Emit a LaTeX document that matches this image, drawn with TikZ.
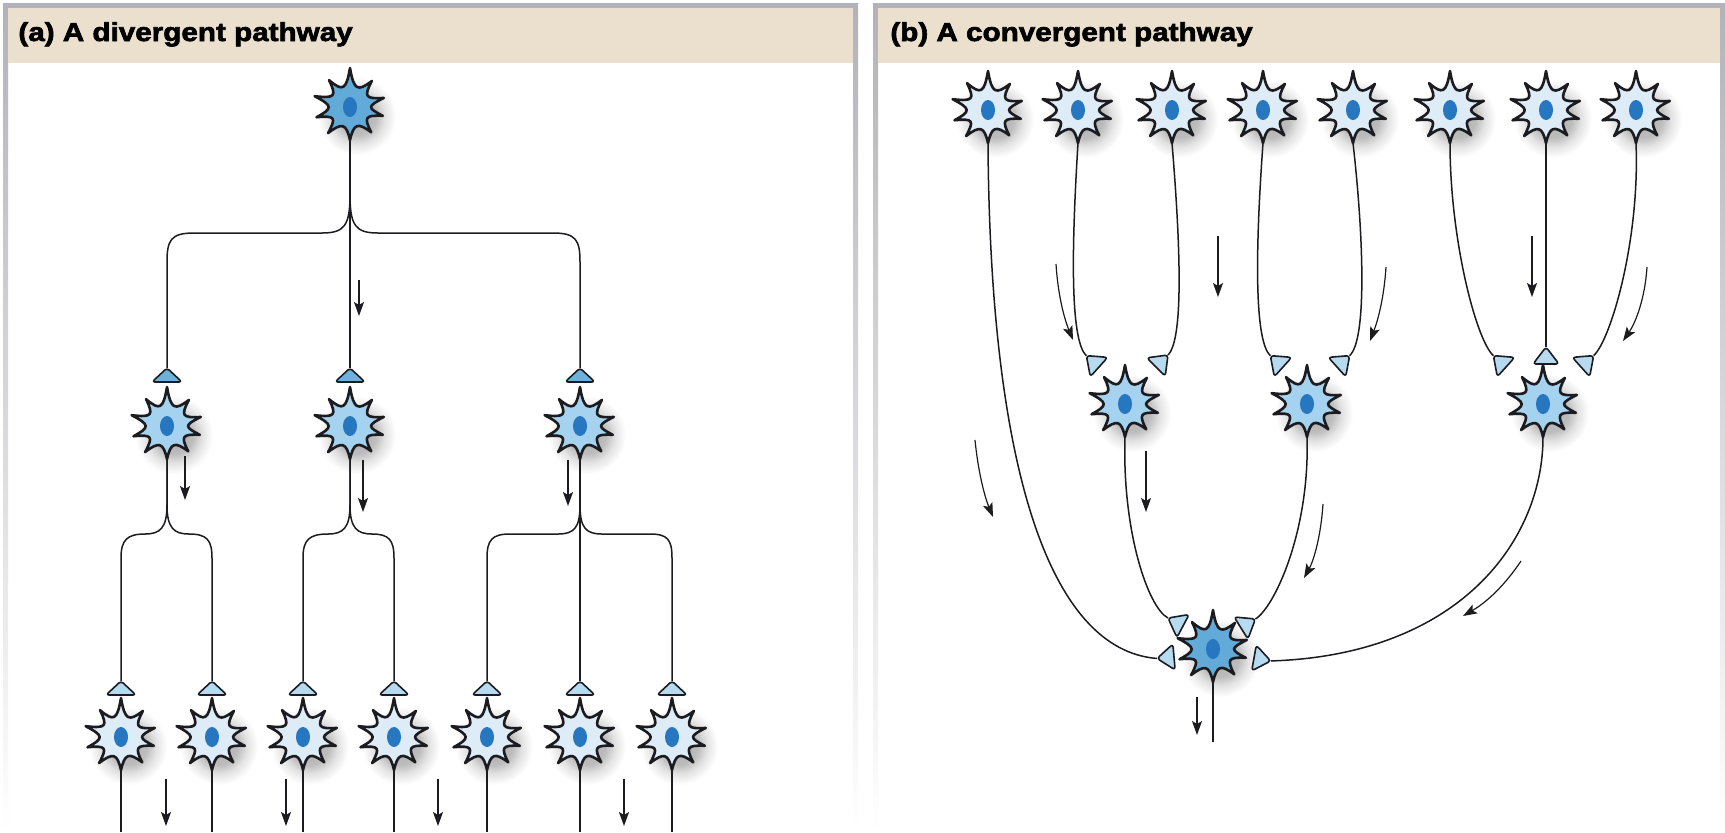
\documentclass[tikz,border=0pt]{standalone}
\usepackage{fontspec}
\newfontfamily\headfont[FakeStretch=1.14,BoldFeatures={FakeBold=2.5}]{Liberation Sans}
\usetikzlibrary{arrows.meta}

\definecolor{outline}{RGB}{28,28,32}
\definecolor{cdark}{RGB}{98,170,216}
\definecolor{cmid}{RGB}{165,210,238}
\definecolor{clight}{RGB}{222,236,247}
\definecolor{cnuc}{RGB}{38,118,192}
\definecolor{knobdark}{RGB}{110,178,220}
\definecolor{knoblight}{RGB}{182,219,241}
\definecolor{headc}{RGB}{234,224,205}
\definecolor{bordc}{RGB}{178,178,186}

\pgfdeclarelayer{bg}
\pgfdeclarelayer{shadow}
\pgfsetlayers{bg,shadow,main}

% soft halo under each cell body (25bp = edge of the shaded circle)
\pgfdeclareradialshading{cellshadow}{\pgfpoint{0bp}{0bp}}{%
  color(0bp)=(black!32); color(12bp)=(black!26); color(18bp)=(black!11);
  color(25bp)=(white); color(50bp)=(white)}

\tikzset{
  neuron/.pic={
    \begin{pgfonlayer}{shadow}
      \shade[shading=cellshadow] (7,9) circle (39);
    \end{pgfonlayer}
    \path[fill=#1, draw=outline, line width=1.3pt, line join=round]
      (270:39) .. controls (283:17) and (297:17) .. (310:34)
      .. controls (323:17) and (332:17) .. (345:35)
      .. controls (358:17) and (2:17) .. (15:34)
      .. controls (28:17) and (37:17) .. (50:33)
      .. controls (63:17) and (77:17) .. (90:33)
      .. controls (103:17) and (117:17) .. (130:34)
      .. controls (143:17) and (150:17) .. (163:35)
      .. controls (176:17) and (184:17) .. (197:37)
      .. controls (210:17) and (219:17) .. (232:34)
      .. controls (245:17) and (257:17) .. (270:39) -- cycle;
    \fill[cnuc] (0,0) ellipse (7 and 10);
    \coordinate (-c) at (0,0);
    \coordinate (-bot) at (0,33);
  },
  knobA/.pic={
    \path[fill=#1, draw=outline, line width=0.8pt, line join=round, rounded corners=1.5pt]
      (0,-14) -- (-15,0) -- (15,0) -- cycle;
    \coordinate (-apex) at (0,-14);
  },
  knobB/.pic={
    \path[fill=#1, draw=outline, line width=0.8pt, line join=round, rounded corners=1.5pt]
      (0,-17) -- (-13,0) -- (13,0) -- cycle;
    \coordinate (-apex) at (0,-17);
    \coordinate (-pre) at (0,-40);
  },
  axon/.style={draw=outline, line width=0.75pt},
  flow/.style={draw=outline, line width=0.6pt,
    -{Stealth[length=7pt,width=5pt,inset=1.5pt]}},
  headtext/.style={anchor=base west, inner sep=0pt,
    font=\headfont\bfseries\fontsize{13}{15}\selectfont, text=black},
}

\begin{document}
\begin{tikzpicture}[x=0.5pt,y=-0.5pt]
\useasboundingbox (0,0) rectangle (1725,832);

% ---------- panel frames ----------
\begin{pgfonlayer}{bg}
  \fill[white] (0,0) rectangle (1725,832);
  % panel (a)
  \fill[bordc] (3,3) rectangle (858,8);
  \shade[top color=bordc, bottom color=white] (3,3) rectangle (8,832);
  \shade[top color=bordc, bottom color=white] (853,3) rectangle (858,832);
  \fill[headc] (8,8) rectangle (853,63);
  % panel (b)
  \fill[bordc] (873,3) rectangle (1725,8);
  \shade[top color=bordc, bottom color=white] (873,3) rectangle (878,832);
  \shade[top color=bordc, bottom color=white] (1720,3) rectangle (1725,832);
  \fill[headc] (878,8) rectangle (1720,63);
\end{pgfonlayer}

\node[headtext] (titleA) at (18,41) {(a) A divergent pathway};
\node[headtext] (titleB) at (890,41) {(b) A convergent pathway};

% ---------- (a) divergent pathway ----------
\pic (a0) at (350,107) {neuron=cdark};

\pic (k01) at (167,382) {knobA=knobdark};
\pic (k02) at (350,382) {knobA=knobdark};
\pic (k03) at (580,382) {knobA=knobdark};

\pic (a1) at (167,426) {neuron=cmid};
\pic (a2) at (350,426) {neuron=cmid};
\pic (a3) at (580,426) {neuron=cmid};

\foreach \n/\x in {11/121,12/212,21/303,22/394,31/487,32/580,33/672}{
  \pic (k\n) at (\x,695) {knobA=knoblight};
  \pic (b\n) at (\x,737) {neuron=clight};
  \coordinate (e\n) at (\x,832);
  \draw[axon] (b\n-bot) -- (e\n);
}

% first split
\draw[axon] (a0-bot) -- (k02-apex);
\draw[axon] (a0-bot) -- (350,195) .. controls (350,226) and (344,233) .. (322,233)
  -- (194,233) .. controls (171,233) and (167,240) .. (167,262) -- (k01-apex);
\draw[axon] (a0-bot) -- (350,195) .. controls (350,226) and (356,233) .. (378,233)
  -- (553,233) .. controls (576,233) and (580,240) .. (580,262) -- (k03-apex);

% second split, left cell
\draw[axon] (a1-bot) -- (167,505) .. controls (167,528) and (160,534) .. (145,534)
  .. controls (127,534) and (121,540) .. (121,558) -- (k11-apex);
\draw[axon] (a1-bot) -- (167,505) .. controls (167,528) and (174,534) .. (189,534)
  .. controls (207,534) and (212,540) .. (212,558) -- (k12-apex);
% second split, middle cell
\draw[axon] (a2-bot) -- (350,505) .. controls (350,528) and (343,534) .. (328,534)
  .. controls (309,534) and (303,540) .. (303,558) -- (k21-apex);
\draw[axon] (a2-bot) -- (350,505) .. controls (350,528) and (357,534) .. (372,534)
  .. controls (389,534) and (394,540) .. (394,558) -- (k22-apex);
% second split, right cell
\draw[axon] (a3-bot) -- (k32-apex);
\draw[axon] (a3-bot) -- (580,505) .. controls (580,528) and (574,534) .. (558,534)
  -- (510,534) .. controls (492,534) and (487,540) .. (487,558) -- (k31-apex);
\draw[axon] (a3-bot) -- (580,505) .. controls (580,528) and (586,534) .. (602,534)
  -- (650,534) .. controls (668,534) and (672,540) .. (672,558) -- (k33-apex);

% direction of signal flow
\draw[flow] (359,280) -- (359,316);
\draw[flow] (185,456) -- (185,500);
\draw[flow] (363,460) -- (363,512);
\draw[flow] (568,460) -- (568,506);
\foreach \x in {166,286,438,624}{\draw[flow] (\x,779) -- (\x,826);}

% ---------- (b) convergent pathway ----------
\foreach \n/\x in {1/988,2/1078,3/1172,4/1263,5/1353,6/1450,7/1546,8/1636}{
  \pic (t\n) at (\x,110) {neuron=clight};
}

\pic[rotate=48]  (K1) at (1099,367) {knobB=knoblight};
\pic[rotate=-45] (K2) at (1156,367) {knobB=knoblight};
\pic[rotate=48]  (K3) at (1283,367) {knobB=knoblight};
\pic[rotate=-48] (K4) at (1337,367) {knobB=knoblight};
\pic[rotate=48]  (K5) at (1506,367) {knobB=knoblight};
\pic             (K6) at (1546,364) {knobB=knoblight};
\pic[rotate=-48] (K7) at (1581,367) {knobB=knoblight};

\pic (m1) at (1125,404) {neuron=cmid};
\pic (m2) at (1307,404) {neuron=cmid};
\pic (m3) at (1543,404) {neuron=cmid};

\pic[rotate=62]   (B1) at (1183,626) {knobB=knoblight};
\pic[rotate=-58]  (B2) at (1241,628) {knobB=knoblight};
\pic[rotate=95]   (B3) at (1174,657) {knobB=knoblight};
\pic[rotate=-100] (B4) at (1254,658) {knobB=knoblight};

\pic (c0) at (1213,649) {neuron=cdark};
\coordinate (cend) at (1213,742);
\draw[axon] (c0-bot) -- (cend);

% inputs onto the middle row
\draw[axon] (t2-bot) .. controls (1072,240) and (K1-pre) .. (K1-apex);
\draw[axon] (t3-bot) .. controls (1180,240) and (K2-pre) .. (K2-apex);
\draw[axon] (t4-bot) .. controls (1256,240) and (K3-pre) .. (K3-apex);
\draw[axon] (t5-bot) .. controls (1364,240) and (K4-pre) .. (K4-apex);
\draw[axon] (t6-bot) .. controls (1450,240) and (K5-pre) .. (K5-apex);
\draw[axon] (t7-bot) -- (K6-apex);
\draw[axon] (t8-bot) .. controls (1640,240) and (K7-pre) .. (K7-apex);

% inputs onto the output cell
\draw[axon] (t1-bot) .. controls (990,470) and (1050,650) .. (B3-apex);
\draw[axon] (m1-bot) .. controls (1122,530) and (B1-pre) .. (B1-apex);
\draw[axon] (m2-bot) .. controls (1310,530) and (B2-pre) .. (B2-apex);
\draw[axon] (m3-bot) .. controls (1543,540) and (1460,655) .. (B4-apex);

% direction of signal flow
\draw[flow] (1056,264) .. controls (1058,295) and (1064,318) .. (1073,340);
\draw[flow] (1218,236) -- (1218,297);
\draw[flow] (1386,267) .. controls (1384,298) and (1378,320) .. (1370,341);
\draw[flow] (1532,236) -- (1532,297);
\draw[flow] (1647,267) .. controls (1645,298) and (1636,322) .. (1623,341);
\draw[flow] (975,440) .. controls (978,470) and (984,495) .. (993,517);
\draw[flow] (1146,451) -- (1146,512);
\draw[flow] (1323,504) .. controls (1321,535) and (1314,560) .. (1304,578);
\draw[flow] (1521,561) .. controls (1505,585) and (1487,602) .. (1463,616);
\draw[flow] (1197,697) -- (1197,735);
\end{tikzpicture}
\end{document}
